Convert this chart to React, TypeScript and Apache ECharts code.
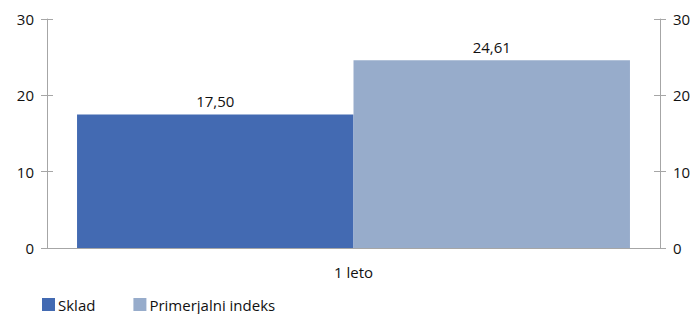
import React, { useEffect, useRef } from "react";
import * as echarts from "echarts";

const categories = ["1 leto"];
const seriesNames = ["Sklad", "Primerjalni indeks"];
const skladValues = [17.5];
const indexValues = [24.61];
const yTicks = { min: 0, max: 30, interval: 10 };

const FONT = "'Open Sans', sans-serif";
const TXT = "#111111";
const AX = "#a6a6a6";
const FS = 15;

export default function App() {
  const ref = useRef<HTMLDivElement>(null);
  useEffect(() => {
    if (!ref.current) return;
    const chart = echarts.init(ref.current, null, { renderer: "svg" });
    const fmt = (p: any) => Number(p.value).toFixed(2).replace(".", ",");
    const axisBase = (position: "left" | "right", outer: boolean) => ({
      type: "value",
      position,
      min: yTicks.min,
      max: yTicks.max,
      interval: yTicks.interval,
      splitLine: { show: false },
      axisLine: { show: outer, lineStyle: { color: AX, width: 1 } },
      axisTick: { show: true, inside: !outer, length: 6, lineStyle: { color: AX, width: 1 } },
      axisLabel: {
        show: outer,
        margin: 13,
        color: TXT,
        fontSize: FS,
        fontFamily: FONT,
      },
    });
    chart.setOption({
      animation: false,
      textStyle: { fontFamily: FONT },
      grid: { left: 47, right: 36, top: 19, bottom: 66, containLabel: false },
      legend: {
        left: 37,
        top: 292,
        itemWidth: 13,
        itemHeight: 13,
        itemGap: 38,
        icon: "rect",
        textStyle: { color: TXT, fontSize: FS, fontFamily: FONT, padding: [0, 0, 0, -2] },
        data: seriesNames,
      },
      xAxis: {
        type: "category",
        data: categories,
        axisLine: { lineStyle: { color: AX, width: 1 } },
        axisTick: { show: false },
        axisLabel: { margin: 16, color: TXT, fontSize: FS, fontFamily: FONT },
      },
      yAxis: [
        axisBase("left", true),
        axisBase("right", true),
        axisBase("left", false),
        axisBase("right", false),
      ],
      series: [
        {
          name: seriesNames[0],
          type: "bar",
          data: skladValues,
          barGap: "0%",
          barCategoryGap: "9.8%",
          itemStyle: { color: "#436ab2" },
          label: { show: true, position: "top", distance: 6, color: TXT, fontSize: FS, fontFamily: FONT, formatter: fmt },
        },
        {
          name: seriesNames[1],
          type: "bar",
          data: indexValues,
          barGap: "0%",
          barCategoryGap: "9.8%",
          itemStyle: { color: "#97accb" },
          label: { show: true, position: "top", distance: 6, color: TXT, fontSize: FS, fontFamily: FONT, formatter: fmt },
        },
      ],
    });
    return () => chart.dispose();
  }, []);
  return <div ref={ref} style={{ width: 696, height: 314, position: "absolute", left: 0, top: 0 }} />;
}
